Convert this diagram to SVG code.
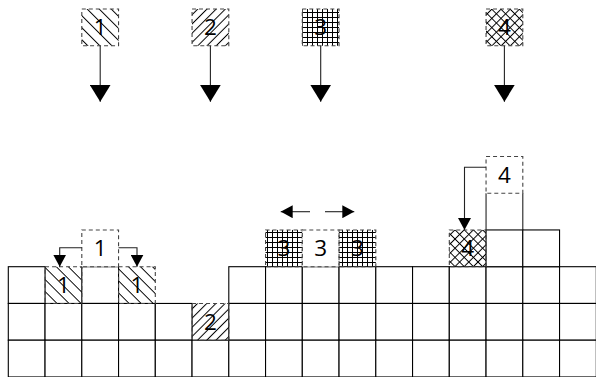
<svg xmlns="http://www.w3.org/2000/svg" width="596" height="377" viewBox="0 0 596 377">
<defs>
<pattern id="h1" patternUnits="userSpaceOnUse" width="8.5" height="8.5" patternTransform="rotate(45)"><line x1="0" y1="4.25" x2="8.5" y2="4.25" stroke="#000" stroke-width="1"/></pattern>
<pattern id="h2" patternUnits="userSpaceOnUse" width="6.5" height="6.5" patternTransform="rotate(-45)"><line x1="0" y1="3.25" x2="6.5" y2="3.25" stroke="#000" stroke-width="1"/></pattern>
<pattern id="h3" patternUnits="userSpaceOnUse" width="5" height="5"><path d="M2.5 0V5M0 2.5H5" stroke="#000" stroke-width="1" fill="none"/></pattern>
<pattern id="h4" patternUnits="userSpaceOnUse" width="6.5" height="6.5" patternTransform="rotate(45)"><path d="M3.25 0V6.5M0 3.25H6.5" stroke="#000" stroke-width="1" fill="none"/></pattern>
<marker id="ab" viewBox="0 0 12 13" refX="12" refY="6.5" markerWidth="12" markerHeight="13" markerUnits="userSpaceOnUse" orient="auto"><path d="M0 0L12 6.5L0 13Z" fill="#000"/></marker>
<marker id="abig" viewBox="0 0 17 21" refX="17" refY="10.5" markerWidth="17" markerHeight="21" markerUnits="userSpaceOnUse" orient="auto"><path d="M0 0L17 10.5L0 21Z" fill="#000"/></marker>
</defs>
<style>
.cell{fill:#fff;stroke:#000;stroke-width:1.1}
.dash{stroke:#444;stroke-width:1.1;stroke-dasharray:4 3}
.t{font-family:"Open Sans","Noto Sans",sans-serif;font-size:22.5px;fill:#000;text-anchor:middle}
.ln{fill:none;stroke:#222;stroke-width:1.1}
</style>
<g id="grid">
<rect class="cell" x="8.3" y="266.7" width="36.75" height="36.75"/>
<rect class="cell" x="81.8" y="266.7" width="36.75" height="36.75"/>
<rect class="cell" x="228.8" y="266.7" width="36.75" height="36.75"/>
<rect class="cell" x="265.55" y="266.7" width="36.75" height="36.75"/>
<rect class="cell" x="302.3" y="266.7" width="36.75" height="36.75"/>
<rect class="cell" x="339.05" y="266.7" width="36.75" height="36.75"/>
<rect class="cell" x="375.8" y="266.7" width="36.75" height="36.75"/>
<rect class="cell" x="412.55" y="266.7" width="36.75" height="36.75"/>
<rect class="cell" x="449.3" y="266.7" width="36.75" height="36.75"/>
<rect class="cell" x="486.05" y="266.7" width="36.75" height="36.75"/>
<rect class="cell" x="522.8" y="266.7" width="36.75" height="36.75"/>
<rect class="cell" x="559.55" y="266.7" width="36.75" height="36.75"/>
<rect class="cell" x="8.3" y="303.45" width="36.75" height="36.75"/>
<rect class="cell" x="45.05" y="303.45" width="36.75" height="36.75"/>
<rect class="cell" x="81.8" y="303.45" width="36.75" height="36.75"/>
<rect class="cell" x="118.55" y="303.45" width="36.75" height="36.75"/>
<rect class="cell" x="155.3" y="303.45" width="36.75" height="36.75"/>
<rect class="cell" x="228.8" y="303.45" width="36.75" height="36.75"/>
<rect class="cell" x="265.55" y="303.45" width="36.75" height="36.75"/>
<rect class="cell" x="302.3" y="303.45" width="36.75" height="36.75"/>
<rect class="cell" x="339.05" y="303.45" width="36.75" height="36.75"/>
<rect class="cell" x="375.8" y="303.45" width="36.75" height="36.75"/>
<rect class="cell" x="412.55" y="303.45" width="36.75" height="36.75"/>
<rect class="cell" x="449.3" y="303.45" width="36.75" height="36.75"/>
<rect class="cell" x="486.05" y="303.45" width="36.75" height="36.75"/>
<rect class="cell" x="522.8" y="303.45" width="36.75" height="36.75"/>
<rect class="cell" x="559.55" y="303.45" width="36.75" height="36.75"/>
<rect class="cell" x="8.3" y="340.2" width="36.75" height="36.75"/>
<rect class="cell" x="45.05" y="340.2" width="36.75" height="36.75"/>
<rect class="cell" x="81.8" y="340.2" width="36.75" height="36.75"/>
<rect class="cell" x="118.55" y="340.2" width="36.75" height="36.75"/>
<rect class="cell" x="155.3" y="340.2" width="36.75" height="36.75"/>
<rect class="cell" x="192.05" y="340.2" width="36.75" height="36.75"/>
<rect class="cell" x="228.8" y="340.2" width="36.75" height="36.75"/>
<rect class="cell" x="265.55" y="340.2" width="36.75" height="36.75"/>
<rect class="cell" x="302.3" y="340.2" width="36.75" height="36.75"/>
<rect class="cell" x="339.05" y="340.2" width="36.75" height="36.75"/>
<rect class="cell" x="375.8" y="340.2" width="36.75" height="36.75"/>
<rect class="cell" x="412.55" y="340.2" width="36.75" height="36.75"/>
<rect class="cell" x="449.3" y="340.2" width="36.75" height="36.75"/>
<rect class="cell" x="486.05" y="340.2" width="36.75" height="36.75"/>
<rect class="cell" x="522.8" y="340.2" width="36.75" height="36.75"/>
<rect class="cell" x="559.55" y="340.2" width="36.75" height="36.75"/>
<rect class="cell" x="486.05" y="229.95" width="36.75" height="36.75"/>
<rect class="cell" x="522.8" y="229.95" width="36.75" height="36.75"/>
<path class="ln" d="M486.05 193.2V229.95M522.8 193.2V229.95" stroke="#000"/>
</g>
<g id="top-block-1">
<rect class="dash" fill="url(#h1)" x="81.8" y="9" width="36.75" height="36.75"/>
<text class="t" x="100.2" y="35.4">1</text>
</g>
<g id="top-block-2">
<rect class="dash" fill="url(#h2)" x="192.05" y="9" width="36.75" height="36.75"/>
<text class="t" x="210.4" y="35.4">2</text>
</g>
<g id="top-block-3">
<rect class="dash" fill="url(#h3)" x="302.3" y="9" width="36.75" height="36.75"/>
<text class="t" x="320.7" y="35.4">3</text>
</g>
<g id="top-block-4">
<rect class="dash" fill="url(#h4)" x="486.05" y="9" width="36.75" height="36.75"/>
<text class="t" x="504.4" y="35.4">4</text>
</g>
<g id="piece-1a">
<rect class="dash" fill="url(#h1)" x="45.05" y="266.7" width="36.75" height="36.75"/>
<text class="t" x="63.4" y="293.1">1</text>
</g>
<g id="piece-1b">
<rect class="dash" fill="url(#h1)" x="118.55" y="266.7" width="36.75" height="36.75"/>
<text class="t" x="136.9" y="293.1">1</text>
</g>
<g id="ghost-1">
<rect class="dash" fill="#fff" x="81.8" y="229.95" width="36.75" height="36.75"/>
<text class="t" x="100.2" y="256.3">1</text>
</g>
<g id="piece-2">
<rect class="dash" fill="url(#h2)" x="192.05" y="303.45" width="36.75" height="36.75"/>
<text class="t" x="210.4" y="329.8">2</text>
</g>
<g id="piece-3a">
<rect class="dash" fill="url(#h3)" x="265.55" y="229.95" width="36.75" height="36.75"/>
<text class="t" x="283.9" y="256.3">3</text>
</g>
<g id="ghost-3">
<rect class="dash" fill="#fff" x="302.3" y="229.95" width="36.75" height="36.75"/>
<text class="t" x="320.7" y="256.3">3</text>
</g>
<g id="piece-3b">
<rect class="dash" fill="url(#h3)" x="339.05" y="229.95" width="36.75" height="36.75"/>
<text class="t" x="357.4" y="256.3">3</text>
</g>
<g id="piece-4">
<rect class="dash" fill="url(#h4)" x="449.3" y="229.95" width="36.75" height="36.75"/>
<text class="t" x="467.7" y="256.3">4</text>
</g>
<g id="ghost-4">
<rect class="dash" fill="#fff" x="486.05" y="156.45" width="36.75" height="36.75"/>
<text class="t" x="504.4" y="182.8">4</text>
</g>
<g id="connectors">
<path class="ln" d="M100.2 45.75V101.7" marker-end="url(#abig)"/>
<path class="ln" d="M210.4 45.75V101.7" marker-end="url(#abig)"/>
<path class="ln" d="M320.7 45.75V101.7" marker-end="url(#abig)"/>
<path class="ln" d="M504.4 45.75V101.7" marker-end="url(#abig)"/>
<path class="ln" d="M81.8 247.7H59.7V266.7" marker-end="url(#ab)"/>
<path class="ln" d="M118.55 247.7H137V266.7" marker-end="url(#ab)"/>
<path class="ln" d="M310 211.7H280.7" marker-end="url(#ab)"/>
<path class="ln" d="M325 211.7H354.3" marker-end="url(#ab)"/>
<path class="ln" d="M486.05 167.3H464.5V229.95" marker-end="url(#ab)"/>
</g>
</svg>
